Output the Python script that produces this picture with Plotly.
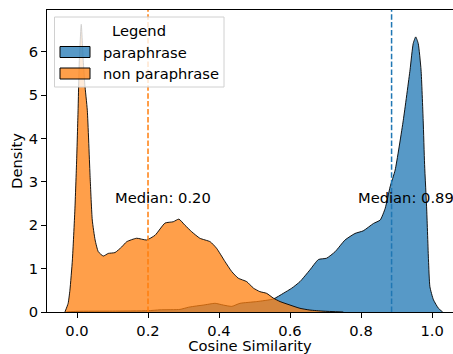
import plotly.graph_objects as go

# Paraphrase KDE
para_x = [-0.03, 0.0, 0.1, 0.2, 0.234, 0.29, 0.314, 0.337, 0.356, 0.389, 0.412, 0.436, 0.459,
          0.506, 0.553, 0.581, 0.605, 0.628, 0.656, 0.68, 0.703, 0.727, 0.755, 0.783, 0.806,
          0.835, 0.854, 0.868, 0.882, 0.896, 0.919, 0.938, 0.947, 0.954, 0.961, 0.969, 0.975,
          0.979, 0.985, 0.99, 0.994, 1.004, 1.018, 1.03]
para_y = [0.0, 0.015, 0.02, 0.03, 0.05, 0.06, 0.11, 0.14, 0.16, 0.2, 0.16, 0.13, 0.2,
          0.24, 0.30, 0.43, 0.55, 0.70, 0.97, 1.21, 1.24, 1.39, 1.66, 1.81, 1.87,
          2.04, 2.12, 2.39, 2.89, 3.27, 4.42, 5.58, 6.19, 6.34, 6.19, 5.58, 4.42,
          3.4, 2.35, 1.2, 0.58, 0.28, 0.085, 0.0]

# Non paraphrase KDE
nonpara_x = [-0.034, -0.025, -0.02, -0.013, -0.006, -0.001, 0.003, 0.0065, 0.012, 0.0175,
             0.022, 0.029, 0.037, 0.043, 0.051, 0.060, 0.074, 0.088, 0.107, 0.126, 0.14,
             0.168, 0.196, 0.22, 0.248, 0.271, 0.287, 0.304, 0.323, 0.346, 0.375, 0.393,
             0.417, 0.436, 0.454, 0.478, 0.497, 0.515, 0.534, 0.553, 0.572, 0.6, 0.628,
             0.656, 0.693, 0.75]
nonpara_y = [0.0, 0.2, 0.5, 1.2, 2.35, 3.5, 4.65, 5.8, 6.63, 5.8,
             5.25, 4.65, 3.1, 2.12, 1.66, 1.39, 1.29, 1.35, 1.37, 1.5, 1.62,
             1.70, 1.66, 1.77, 2.05, 2.08, 2.14, 2.0, 1.85, 1.70, 1.62, 1.47,
             1.16, 0.93, 0.78, 0.70, 0.55, 0.47, 0.43, 0.32, 0.24, 0.16, 0.085,
             0.045, 0.02, 0.0]

series_names = ["paraphrase", "non paraphrase"]
medians = [0.886, 0.20]
median_labels = ["Median: 0.89", "Median: 0.20"]
line_colors = ["#1f77b4", "#ff7f0e"]
fill_colors = ["rgba(31,119,180,0.75)", "rgba(255,127,14,0.75)"]
xs_all = [para_x, nonpara_x]
ys_all = [para_y, nonpara_y]

FS = 14.7
FONT = dict(family="DejaVu Sans", size=FS, color="black")
fig = go.Figure()
for i, name in enumerate(series_names):
    fig.add_trace(go.Scatter(
        x=xs_all[i], y=ys_all[i], name=name, mode="lines", fill="tozeroy",
        fillcolor=fill_colors[i], showlegend=False, hoverinfo="skip",
        line=dict(color="black", width=0.9, shape="spline", smoothing=0.5),
    ))

for i in [1, 0]:
    m = medians[i]
    fig.add_shape(type="line", xref="x", yref="paper", x0=m, x1=m, y0=0, y1=1,
                  line=dict(color=line_colors[i], width=1.5, dash="5.5px,2.4px"))
    fig.add_annotation(x=m - 0.1, y=2.5, xref="x", yref="y", text=median_labels[i],
                       showarrow=False, xanchor="left", yanchor="bottom", yshift=-4,
                       font=FONT)

# Legend box (matplotlib-style), in paper coordinates
PL, PT, PB, PW = 47, 10, 312, 406  # plot area pixels
def px_x(p): return (p - PL) / PW
def px_y(p): return (PB - p) / (PB - PT)

fig.add_shape(type="rect", xref="paper", yref="paper", layer="above",
              x0=px_x(54.5), x1=px_x(224), y0=px_y(87), y1=px_y(17),
              fillcolor="rgba(255,255,255,0.8)", line=dict(color="#d0d0d0", width=1))
fig.add_annotation(xref="paper", yref="paper", x=px_x(139), y=px_y(30), text="Legend",
                   showarrow=False, xanchor="center", yanchor="middle", font=FONT)
for i, name in enumerate(series_names):
    top = 46.5 + i * 21.5
    fig.add_shape(type="rect", xref="paper", yref="paper", layer="above",
                  x0=px_x(60), x1=px_x(90), y0=px_y(top + 11), y1=px_y(top),
                  fillcolor=fill_colors[i], line=dict(color="black", width=1))
    fig.add_annotation(xref="paper", yref="paper", x=px_x(101), y=px_y(top + 5.5),
                       text=name, showarrow=False, xanchor="left", yanchor="middle",
                       font=FONT)

fig.update_layout(
    width=453, height=354,
    margin=dict(l=47, r=0, t=10, b=42),
    paper_bgcolor="white", plot_bgcolor="white",
    font=FONT,
    showlegend=False,
    xaxis=dict(
        range=[-0.0845, 1.059], tickvals=[0.0, 0.2, 0.4, 0.6, 0.8, 1.0], tickformat=".1f",
        showgrid=False, zeroline=False, showline=True, linecolor="black", linewidth=1,
        mirror=True, ticks="outside", ticklen=5, tickcolor="black", tickfont=FONT,
        title=dict(text="Cosine Similarity", standoff=0, font=FONT),
    ),
    yaxis=dict(
        range=[0, 6.96], tickvals=[0, 1, 2, 3, 4, 5, 6],
        showgrid=False, zeroline=False, showline=True, linecolor="black", linewidth=1,
        ticks="outside", ticklen=5, tickcolor="black", tickfont=FONT,
        title=dict(text="Density", standoff=2, font=FONT),
    ),
)

fig.write_html("out.html", config={"displayModeBar": False},
               post_script="document.body.style.margin='0';document.body.style.overflow='hidden';")
